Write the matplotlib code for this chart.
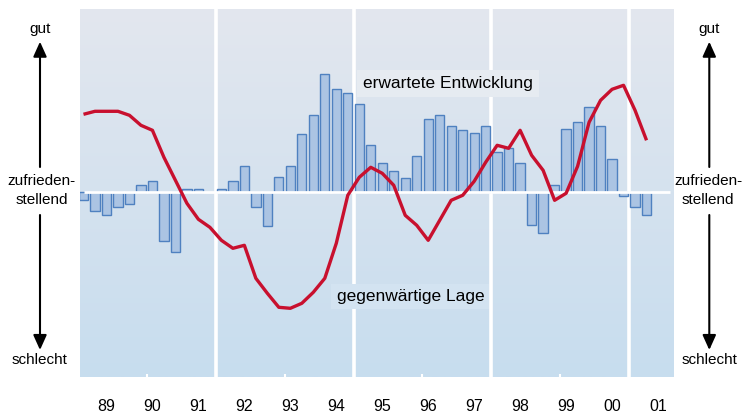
import numpy as np
import matplotlib
matplotlib.use("Agg")
from matplotlib import pyplot as plt

plt.rcParams['font.family'] = ['Liberation Sans', 'DejaVu Sans']

# one value per quarter, 1989 Q1 .. 2001 Q2 (index units)
erwartet = [-8, -19, -23, -15, -12, 7, 11, -49, -60, 3,
            3, np.nan, 3, 11, 26, -15, -34, 15, 26, 58,
            77, 118, 103, 99, 88, 47, 29, 21, 14, 36,
            73, 77, 66, 62, 59, 66, 40, 44, 29, -33,
            -41, 7, 63, 70, 85, 66, 33, -4, -15, -23]
lage = [78, 81, 81, 81, 77, 67, 62, 35, 12, -11,
        -27, -35, -48, -56, -53, -86, -101, -115, -116, -111,
        -100, -86, -51, -3, 15, 25, 19, 7, -23, -33,
        -48, -28, -8, -3, 11, 30, 47, 44, 62, 37,
        22, -8, -1, 26, 70, 92, 103, 107, 82, 52]
years = ['89', '90', '91', '92', '93', '94', '95', '96', '97', '98', '99', '00', '01']

q = np.arange(len(erwartet))
year_pos = np.arange(len(years)) * 4 + 2
big_sep = [11.5, 23.5, 35.5, 47.5]
small_sep = [5.5, 17.5, 29.5, 41.5]

W, H = 743, 416
fig = plt.figure(figsize=(W / 100, H / 100), dpi=100)
ax = fig.add_axes([79.7 / W, 39 / H, (673.3 - 79.7) / W, (407.5 - 39) / H])
x0, x1, y0, y1 = -0.33, 51.33, -184.7, 183.8
ax.set_xlim(x0, x1)
ax.set_ylim(y0, y1)

top = np.array([227, 231, 238]) / 255
bot = np.array([199, 221, 239]) / 255
t = np.linspace(0, 1, 256)[:, None, None]
grad = top * (1 - t) + bot * t
ax.imshow(grad, extent=[x0, x1, y0, y1], aspect='auto', origin='upper', zorder=0)

for s in ax.spines.values():
    s.set_visible(False)
ax.set_yticks([])
ax.set_xticks(year_pos, years)
ax.tick_params(axis='x', length=0, pad=16, labelsize=11.5)

ax.bar(q, erwartet, width=0.81, color='#abc4e3', edgecolor='#4f81c0', linewidth=1.0, zorder=2)
ax.hlines(0, 0.05, 51, color='white', lw=2, zorder=3)
for x in big_sep:
    ax.axvline(x, color='white', lw=2.6, zorder=1.5)
for x in small_sep:
    ax.vlines(x, y0, y0 + 3.5, color='white', lw=1.5, zorder=1.5)

ax.plot(q, lage, color='#c8102e', lw=2.4, zorder=5, solid_joinstyle='round', solid_capstyle='butt')

ax.text(31.7, 109, 'erwartete Entwicklung', ha='center', va='center', fontsize=12.5, zorder=4,
        bbox=dict(boxstyle='square,pad=0.35', fc='#e6ebf1', ec='none'))
ax.text(28.45, -104, 'gegenwärtige Lage', ha='center', va='center', fontsize=12.5, zorder=4,
        bbox=dict(boxstyle='square,pad=0.3', fc='#d3e3f1', ec='none'))

def side_scale(xc, xt):
    fig.text(xc / W, 1 - 28.5 / H, 'gut', ha='center', va='center', fontsize=11)
    fig.text(xt / W, 1 - 181.5 / H, 'zufrieden-', ha='center', va='center', fontsize=11)
    fig.text(xt / W, 1 - 200 / H, 'stellend', ha='center', va='center', fontsize=11)
    fig.text(xc / W, 1 - 360 / H, 'schlecht', ha='center', va='center', fontsize=11)
    style = dict(arrowstyle='-|>,head_length=0.6,head_width=0.27', mutation_scale=15,
                 lw=1.5, color='black', shrinkA=0, shrinkB=0)
    ax.annotate('', xy=(xc, H - 41.7), xycoords='figure pixels', xytext=(xc, H - 167),
                textcoords='figure pixels', arrowprops=style, annotation_clip=False)
    ax.annotate('', xy=(xc, H - 350), xycoords='figure pixels', xytext=(xc, H - 215),
                textcoords='figure pixels', arrowprops=style, annotation_clip=False)

side_scale(40, 41.5)
side_scale(709.3, 708)

fig.savefig('out.png', dpi=100)
